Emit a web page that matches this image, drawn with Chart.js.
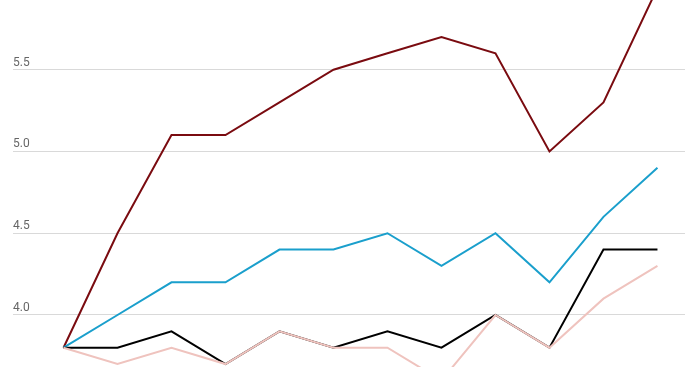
<!DOCTYPE html>
<html>
<head>
<meta charset="utf-8">
<script src="https://cdn.jsdelivr.net/npm/chart.js@4"></script>
<style>
  html, body { margin: 0; padding: 0; background: #fff; }
  #wrap { width: 700px; height: 367px; }
</style>
</head>
<body>
<div id="wrap"><canvas id="myChart"></canvas></div>
<script>
"use strict";

// data
const categories = ["1", "2", "3", "4", "5", "6", "7", "8", "9", "10", "11", "12"];
const darkRed = [3.8, 4.5, 5.1, 5.1, 5.3, 5.5, 5.6, 5.7, 5.6, 5.0, 5.3, 6.0];
const blue = [3.8, 4.0, 4.2, 4.2, 4.4, 4.4, 4.5, 4.3, 4.5, 4.2, 4.6, 4.9];
const black = [3.8, 3.8, 3.9, 3.7, 3.9, 3.8, 3.9, 3.8, 4.0, 3.8, 4.4, 4.4];
const pink = [3.8, 3.7, 3.8, 3.7, 3.9, 3.8, 3.8, 3.6, 4.0, 3.8, 4.1, 4.3];
const tickValues = [4.0, 4.5, 5.0, 5.5];

// turn a series into {x, y} points on the index scale
function toPoints(values) {
    return values.map(function (v, i) { return { x: i, y: v }; });
}

function lineSet(label, values, color, order) {
    return {
        label: label,
        data: toPoints(values),
        borderColor: color,
        borderWidth: 2,
        pointRadius: 0,
        tension: 0,
        fill: false,
        order: order
    };
}

const ctx = document.getElementById('myChart');
const myChart = new Chart(ctx, {
    type: 'line',
    data: {
        datasets: [
            lineSet('Pink', pink, '#efc3be', 0),
            lineSet('Black', black, '#000000', 1),
            lineSet('Blue', blue, '#1a9fcc', 2),
            lineSet('Dark red', darkRed, '#7a0b10', 3)
        ]
    },
    options: {
        responsive: true,
        maintainAspectRatio: false,
        animation: false,
        layout: {
            padding: { left: 13, right: 15, top: 0, bottom: 0 }
        },
        plugins: {
            legend: { display: false },
            tooltip: { enabled: false }
        },
        scales: {
            x: {
                type: 'linear',
                display: false,
                min: -0.935,
                max: categories.length - 1 + 0.51
            },
            y: {
                min: 3.682,
                max: 5.926,
                border: { display: false },
                afterBuildTicks: function (axis) {
                    axis.ticks = tickValues.map(function (v) { return { value: v }; });
                },
                // the mirrored labels sit inside the plot, so no room is needed above/below
                afterFit: function (axis) {
                    axis.paddingTop = 0;
                    axis.paddingBottom = 0;
                },
                grid: {
                    color: '#d9d9d9',
                    lineWidth: 1,
                    drawTicks: false
                },
                ticks: {
                    mirror: true,
                    padding: 0,
                    labelOffset: -7,
                    color: '#666666',
                    font: { family: 'Roboto', size: 12 },
                    callback: function (value) { return Number(value).toFixed(1); }
                }
            }
        }
    }
});
</script>
</body>
</html>
